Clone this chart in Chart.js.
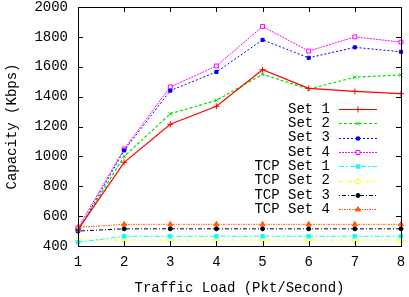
<!DOCTYPE html>
<html><head><meta charset="utf-8">
<script src="https://cdn.jsdelivr.net/npm/chart.js@4/dist/chart.umd.min.js"></script>
<style>html,body{margin:0;padding:0;background:#fff}#w{width:409px;height:297px}</style>
</head><body><div id="w"><canvas id="c"></canvas></div>
<script>
const categories = ['1','2','3','4','5','6','7','8'];
const set1 = [510, 960, 1215, 1335, 1580, 1455, 1435, 1420];
const set2 = [505, 1000, 1285, 1375, 1550, 1450, 1530, 1545];
const set3 = [500, 1040, 1440, 1565, 1780, 1660, 1730, 1700];
const set4 = [520, 1050, 1465, 1605, 1870, 1705, 1800, 1765];
const tcp1 = [425, 465, 465, 465, 465, 465, 465, 465];
const tcp2 = [440, 440, 440, 440, 440, 440, 440, 440];
const tcp3 = [500, 515, 515, 515, 515, 515, 515, 515];
const tcp4 = [525, 545, 545, 545, 545, 545, 545, 545];
const seriesNames = ['Set 1','Set 2','Set 3','Set 4','TCP Set 1','TCP Set 2','TCP Set 3','TCP Set 4'];
const yTicks = [400, 600, 800, 1000, 1200, 1400, 1600, 1800, 2000];

const FONT = "'Liberation Mono', 'Courier New', monospace";
const styles = [
  {c:'#ff0000', d:[], p:'cross', fill:'#ff0000', r:3, w:1.2},
  {c:'#00e000', d:[3,2], p:'crossRot', fill:'#00e000', r:2.6, w:1.2},
  {c:'#0000ff', d:[2,2], p:'rect', fill:'#0000ff', r:2.2, w:1},
  {c:'#ff00ff', d:[2,1], p:'rect', fill:'#ffffff', r:2.8, w:1},
  {c:'#00ffff', d:[5,2,2,2], p:'rect', fill:'#00ffff', r:2.4, w:1},
  {c:'#ffff00', d:[4,2,1,2], p:'circle', fill:'#ffffff', r:2.6, w:1},
  {c:'#000000', d:[1,2,4,2], p:'circle', fill:'#000000', r:2, w:1},
  {c:'#ff5a14', d:[2,1,1,1], p:'triangle', fill:'#ff5a14', r:3, w:1}
];
const allData = [set1,set2,set3,set4,tcp1,tcp2,tcp3,tcp4];
const datasets = allData.map((d,i)=>({
  label: seriesNames[i], data: d,
  borderColor: styles[i].c, backgroundColor: styles[i].fill,
  borderDash: styles[i].d, borderWidth: styles[i].w,
  pointStyle: styles[i].p, pointRadius: styles[i].r,
  pointBorderColor: styles[i].c, pointBackgroundColor: styles[i].fill,
  pointBorderWidth: 1, tension: 0, fill: false
}));

const framePlugin = {
  id: 'frame',
  afterDatasetsDraw(chart) {
    const {ctx, chartArea: a, scales} = chart;
    ctx.save();
    ctx.strokeStyle = '#000'; ctx.lineWidth = 1; ctx.setLineDash([]);
    ctx.strokeRect(Math.round(a.left)+0.5, Math.round(a.top)+0.5, Math.round(a.right-a.left), Math.round(a.bottom-a.top));
    const L = 5;
    ctx.beginPath();
    scales.y.ticks.forEach(t => {
      const y = Math.round(scales.y.getPixelForValue(t.value))+0.5;
      ctx.moveTo(a.left, y); ctx.lineTo(a.left+L, y);
      ctx.moveTo(a.right, y); ctx.lineTo(a.right-L, y);
    });
    scales.x.ticks.forEach((t,i) => {
      const x = Math.round(scales.x.getPixelForValue(i))+0.5;
      ctx.moveTo(x, a.bottom); ctx.lineTo(x, a.bottom-L);
      ctx.moveTo(x, a.top); ctx.lineTo(x, a.top+L);
    });
    ctx.stroke();
    // legend (gnuplot style)
    ctx.font = '14px ' + FONT;
    ctx.textAlign = 'right'; ctx.textBaseline = 'middle';
    const textRight = a.right - 71, x0 = a.right - 62, x1 = a.right - 24;
    chart.data.datasets.forEach((ds, i) => {
      const y = a.top + 102 + i * 14.3;
      ctx.fillStyle = '#000';
      ctx.fillText(ds.label, textRight, y);
      ctx.strokeStyle = ds.borderColor; ctx.lineWidth = ds.borderWidth;
      ctx.setLineDash(ds.borderDash);
      ctx.beginPath(); ctx.moveTo(x0, Math.round(y)+0.5); ctx.lineTo(x1, Math.round(y)+0.5); ctx.stroke();
      ctx.setLineDash([]);
      ctx.fillStyle = ds.pointBackgroundColor; ctx.strokeStyle = ds.pointBorderColor; ctx.lineWidth = 1;
      Chart.helpers.drawPoint(ctx, {pointStyle: ds.pointStyle, radius: ds.pointRadius, rotation: 0, borderWidth: 1}, (x0+x1)/2, Math.round(y)+0.5);
    });
    ctx.restore();
  }
};

new Chart(document.getElementById('c'), {
  type: 'line',
  data: { labels: categories, datasets },
  plugins: [framePlugin],
  options: {
    responsive: true, maintainAspectRatio: false, animation: false,
    layout: { padding: { top: 7, right: 8, left: 0, bottom: 0 } },
    plugins: { legend: { display: false }, tooltip: { enabled: false } },
    scales: {
      x: {
        offset: false,
        grid: { display: false, drawTicks: false },
        border: { display: false },
        ticks: { font: { family: FONT, size: 14 }, color: '#000', padding: 8, maxRotation: 0 },
        title: { display: true, text: 'Traffic Load (Pkt/Second)', font: { family: FONT, size: 14 }, color: '#000', padding: { top: 2, bottom: 0 } },
        afterFit(s) { s.height = 51; s.paddingLeft = 0; s.paddingRight = 0; }
      },
      y: {
        min: 400, max: 2000,
        afterBuildTicks(s) { s.ticks = yTicks.map(v => ({ value: v })); },
        grid: { display: false, drawTicks: false },
        border: { display: false },
        ticks: { font: { family: FONT, size: 14 }, color: '#000', padding: 10, callback: v => String(v) },
        title: { display: true, text: 'Capacity (Kbps)', font: { family: FONT, size: 14 }, color: '#000', padding: { top: 4, bottom: 0 } },
        afterFit(s) { s.width = 78; s.paddingTop = 0; s.paddingBottom = 0; }
      }
    }
  }
});
</script></body></html>
